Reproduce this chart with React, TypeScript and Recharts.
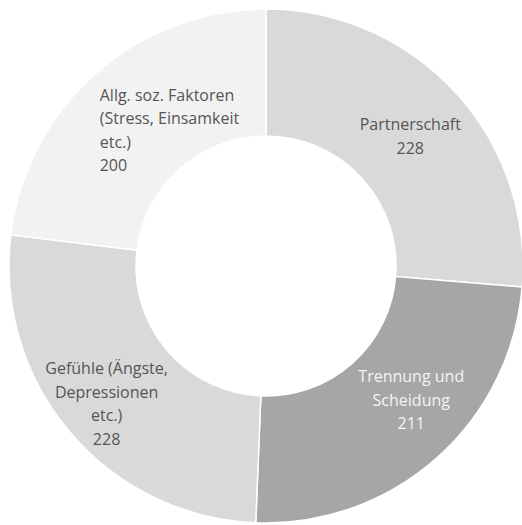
import React from "react";
import { PieChart, Pie, Cell } from "recharts";

const categories = [
  "Partnerschaft",
  "Trennung und\nScheidung",
  "Gefühle (Ängste,\nDepressionen\netc.)",
  "Allg. soz. Faktoren\n(Stress, Einsamkeit\netc.)",
];
const values = [228, 211, 228, 200];

const COLORS = ["#d9d9d9", "#a6a6a6", "#d9d9d9", "#f2f2f2"];
const TEXT_COLORS = ["#555555", "#f4f4f4", "#555555", "#555555"];
// label layout tweaks (offset from mid-ring point, anchor)
const LABEL_NUDGE: [number, number][] = [
  [2, 1],
  [17, -11],
  [-12, 12],
  [32, 9],
];
const LABEL_ANCHOR = ["middle", "middle", "middle", "start"];

const data = categories.map((name, i) => ({ name, value: values[i] }));

const RAD = Math.PI / 180;
const LINE_H = 23.5;

const renderLabel = (props: any) => {
  const { cx, cy, midAngle, innerRadius, outerRadius, index, value } = props;
  const r = (innerRadius + outerRadius) / 2;
  const x = cx + r * Math.cos(-midAngle * RAD) + LABEL_NUDGE[index][0];
  const y = cy + r * Math.sin(-midAngle * RAD) + LABEL_NUDGE[index][1];
  const lines = [...categories[index].split("\n"), String(value)];
  const top = y - ((lines.length - 1) * LINE_H) / 2;
  const anchor = LABEL_ANCHOR[index];
  let tx = x;
  if (anchor === "start") tx = x - 70;
  return (
    <text
      key={`lbl-${index}`}
      x={tx}
      y={top}
      fill={TEXT_COLORS[index]}
      textAnchor={anchor}
      fontFamily="'Open Sans', sans-serif"
      fontSize={16}
      dominantBaseline="central"
    >
      {lines.map((ln, i) => (
        <tspan key={i} x={tx} y={top + i * LINE_H}>
          {ln}
        </tspan>
      ))}
    </text>
  );
};

export default function App() {
  return (
    <div style={{ position: "absolute", left: 0, top: 0, background: "#fff" }}>
      <PieChart
        width={522}
        height={525}
        margin={{ top: 0, right: 0, bottom: 0, left: 0 }}
      >
        <Pie
          data={data}
          dataKey="value"
          nameKey="name"
          cx={266}
          cy={266}
          innerRadius={130}
          outerRadius={257}
          startAngle={90}
          endAngle={-270}
          stroke="#ffffff"
          strokeWidth={1.5}
          labelLine={false}
          label={renderLabel}
          isAnimationActive={false}
        >
          {data.map((d, i) => (
            <Cell key={d.name} fill={COLORS[i]} />
          ))}
        </Pie>
      </PieChart>
    </div>
  );
}
